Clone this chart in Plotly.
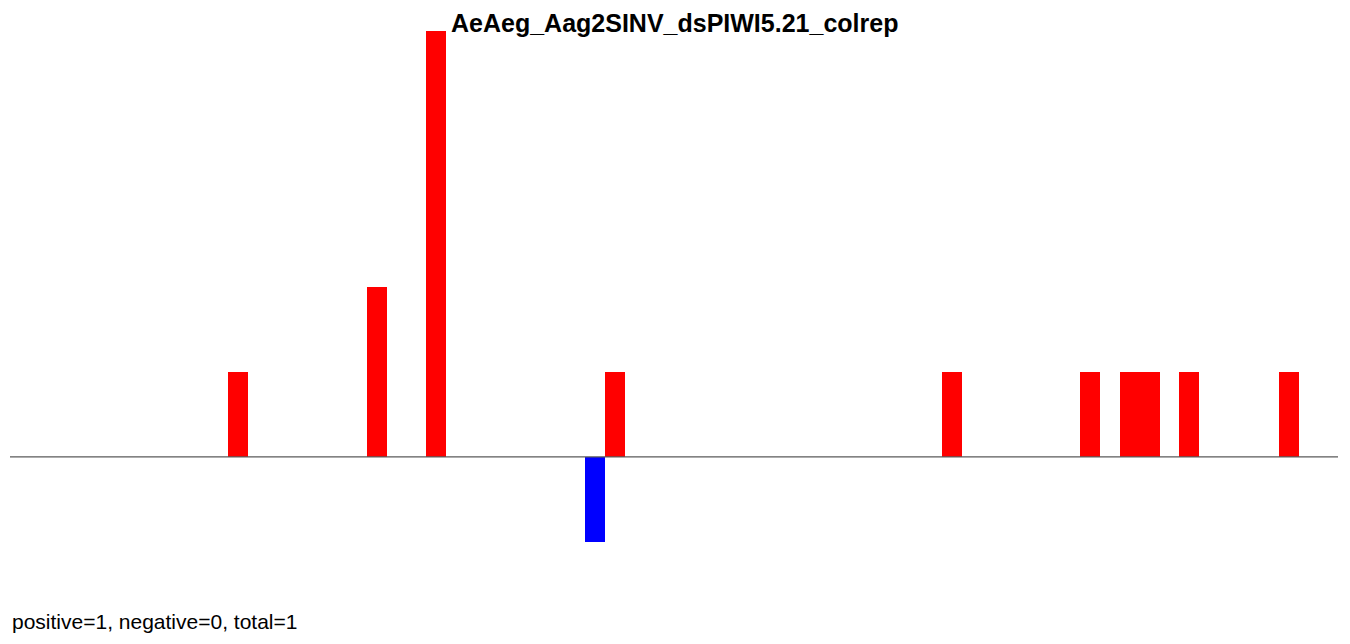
import plotly.graph_objects as go

title_text = "AeAeg_Aag2SINV_dsPIWI5.21_colrep"
footer_text = "positive=1, negative=0, total=1"

bar_centers = [228, 367, 426, 585, 605, 942, 1080, 1120, 1140, 1179, 1279]
counts = [1, 2, 5, -1, 1, 1, 1, 1, 1, 1, 1]
bar_width = 20
x_range = [0, 1328]
y_range = [-1, 5]

colors = ["#FF0000" if c > 0 else "#0000FF" for c in counts]

fig = go.Figure()
fig.add_trace(go.Bar(
    x=bar_centers,
    y=counts,
    width=bar_width,
    marker=dict(color=colors, line=dict(width=0)),
    hoverinfo="x+y",
))

fig.add_shape(type="line", xref="paper", yref="y", x0=0, x1=1, y0=0, y1=0,
              line=dict(color="#5a5a5a", width=1.2))

fig.add_annotation(text="<b>" + title_text + "</b>", xref="paper", yref="paper",
                   x=0.5, y=1.0, yshift=24, xanchor="center", yanchor="top",
                   showarrow=False,
                   font=dict(family="Liberation Sans, Arial, sans-serif", size=25, color="#000000"))

fig.add_annotation(text=footer_text, xref="paper", yref="paper",
                   x=0, y=-0.1546, xanchor="left", yanchor="middle",
                   showarrow=False,
                   font=dict(family="Liberation Sans, Arial, sans-serif", size=21, color="#000000"))

fig.update_layout(
    width=1350, height=644,
    margin=dict(l=2, r=20, t=23, b=110),
    paper_bgcolor="white", plot_bgcolor="white",
    showlegend=False,
    bargap=0,
    xaxis=dict(range=x_range, visible=False, showgrid=False, zeroline=False),
    yaxis=dict(range=y_range, visible=False, showgrid=False, zeroline=False),
)

fig.write_html("out.html")
